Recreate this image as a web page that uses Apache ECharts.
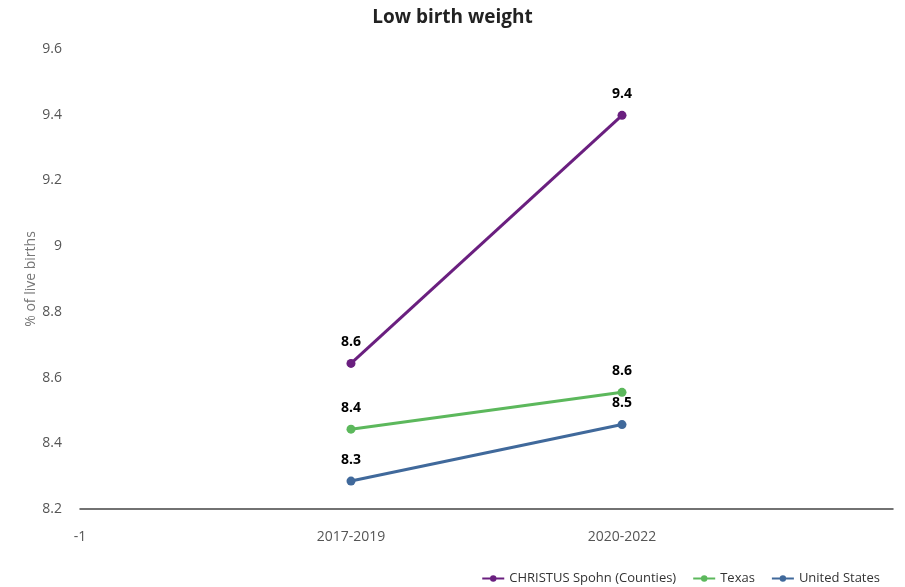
<!DOCTYPE html>
<html><head><meta charset="utf-8">
<script src="https://cdn.jsdelivr.net/npm/echarts@6/dist/echarts.min.js"></script>
<style>html,body{margin:0;padding:0;background:#fff}#c{width:905px;height:587px}</style>
</head><body><div id="c"></div>
<script>
const categories = ['2017-2019', '2020-2022'];
const seriesNames = ['CHRISTUS Spohn (Counties)', 'Texas', 'United States'];
const christus = [8.643, 9.398];
const texas = [8.443, 8.555];
const unitedStates = [8.285, 8.457];
const colors = ['#6a1f7f', '#5cb85c', '#40699b'];
const yTicks = { min: 8.2, max: 9.6, interval: 0.2 };

const font = '"Open Sans", "Noto Sans", sans-serif';
function mk(name, vals, color) {
  return {
    name: name, type: 'line',
    data: vals.map((v, i) => [i, v]),
    color: color,
    lineStyle: { width: 3, color: color },
    itemStyle: { color: color },
    symbol: 'circle', symbolSize: 9,
    label: { show: true, position: 'top', distance: 10, color: '#000', fontWeight: 'bold', fontSize: 14, fontFamily: font,
      formatter: p => p.value[1].toFixed(1) }
  };
}
const chart = echarts.init(document.getElementById('c'));
chart.setOption({
  animation: false,
  title: { text: 'Low birth weight', left: 'center', top: 3, textStyle: { fontFamily: font, fontSize: 19, fontWeight: 'bold', color: '#222' } },
  grid: { left: 80, right: 12, top: 49, bottom: 78 },
  legend: { bottom: -3, right: 20, itemWidth: 22, itemHeight: 8, itemGap: 16,
    textStyle: { fontFamily: font, fontSize: 13, color: '#333' },
    data: seriesNames },
  xAxis: { type: 'value', min: -1, max: 2, interval: 1,
    axisLine: { lineStyle: { color: '#444', width: 1.5 } }, axisTick: { show: false }, splitLine: { show: false },
    axisLabel: { margin: 21, fontFamily: font, fontSize: 14, color: '#555',
      formatter: v => v === -1 ? '-1' : (categories[v] !== undefined ? categories[v] : '') } },
  yAxis: { type: 'value', min: yTicks.min, max: yTicks.max, interval: yTicks.interval,
    name: '% of live births', nameLocation: 'middle', nameGap: 42, nameRotate: 90, nameMoveOverlap: false,
    nameTextStyle: { fontFamily: font, fontSize: 14, color: '#777' },
    axisLine: { show: false }, axisTick: { show: false }, splitLine: { show: false },
    axisLabel: { margin: 18, fontFamily: font, fontSize: 14, color: '#555',
      formatter: v => String(parseFloat(v.toFixed(1))) } },
  series: [mk(seriesNames[0], christus, colors[0]), mk(seriesNames[1], texas, colors[1]), mk(seriesNames[2], unitedStates, colors[2])]
});
</script></body></html>
